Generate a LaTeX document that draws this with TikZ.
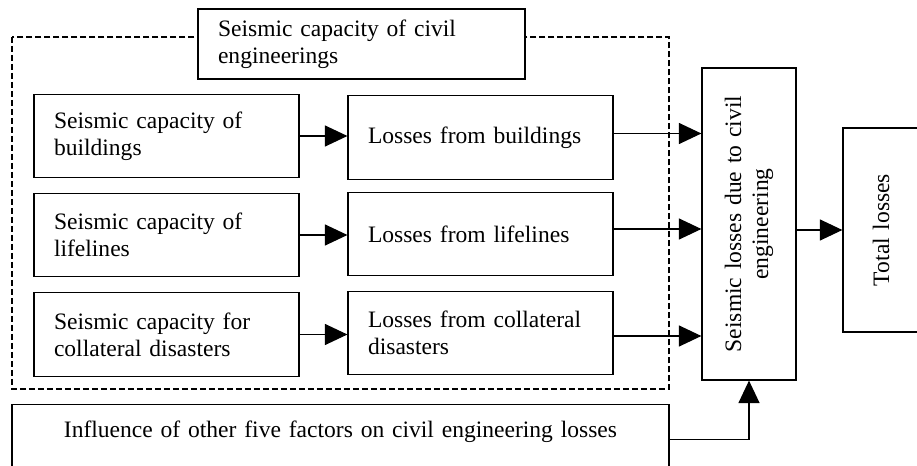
\documentclass[tikz,border=0pt]{standalone}
\usepackage{fontspec}
\setmainfont{Liberation Serif}
\usetikzlibrary{arrows.meta}
\tikzstyle{box}=[rectangle,draw=black,fill=white,line width=0.7pt,
                 inner xsep=0.4cm,inner ysep=0pt,align=left,
                 text width=4.5cm,minimum height=1.67cm]
\tikzstyle{arr}=[line width=0.7pt,-{Triangle[length=0.45cm,width=0.42cm]}]

\begin{document}
\begin{tikzpicture}[x=0.02cm,y=-0.02cm,font=\fontsize{13.4}{15.4}\selectfont]
    \useasboundingbox (0,0) rectangle (917,466);
    \clip (0,0) rectangle (917,466);
    % frame of the civil engineerings group
    \draw[line width=0.7pt,dash pattern=on 0.12cm off 0.06cm] (12,37) rectangle (669,389);
    \node (cap) at (361.5,44) [box,text width=5.74cm,minimum height=1.4cm]{Seismic capacity of civil\\engineerings};
    \node (c1) at (166.5,136) [box]{Seismic capacity of\\buildings};
    \node (c2) at (166.5,235) [box]{Seismic capacity of\\lifelines};
    \node (c3) at (166.5,334.5) [box]{Seismic capacity for\\collateral disasters};
    \node (l1) at (480.5,137.5) [box]{Losses from buildings};
    \node (l2) at (480.5,234) [box]{Losses from lifelines};
    \node (l3) at (480.5,333) [box]{Losses from collateral\\disasters};
    % rotated boxes: north is the left side, south the right side
    \node (sl) at (749,224) [box,rotate=90,align=center,text width=5.84cm,
                             inner xsep=0.2cm,minimum height=1.88cm]{Seismic losses due to civil\\engineering};
    \node (tl) at (881,230) [box,rotate=90,align=center,text width=3.68cm,
                             inner xsep=0.2cm,minimum height=1.52cm]{Total losses};
    \node (inf) at (340.5,404) [box,anchor=north,align=center,text width=13.14cm,inner xsep=0pt,
                                text height=0.66cm,text depth=0.74cm,minimum height=0pt]{Influence of other five factors on civil engineering losses};
    \draw[arr] (c1.east) -- (c1.east -| l1.west);
    \draw[arr] (c2.east) -- (c2.east -| l2.west);
    \draw[arr] (c3.east) -- (c3.east -| l3.west);
    \draw[arr] ([yshift=0.08cm]l1.east) -- ([yshift=0.08cm]l1.east -| sl.north);
    \draw[arr] ([yshift=0.1cm]l2.east) -- ([yshift=0.1cm]l2.east -| sl.north);
    \draw[arr] ([yshift=-0.06cm]l3.east) -- ([yshift=-0.06cm]l3.east -| sl.north);
    \draw[arr] (sl.south |- tl.center) -- (tl.north);
    \draw[arr] (inf.east) -| (sl.west);
\end{tikzpicture}
\end{document}
